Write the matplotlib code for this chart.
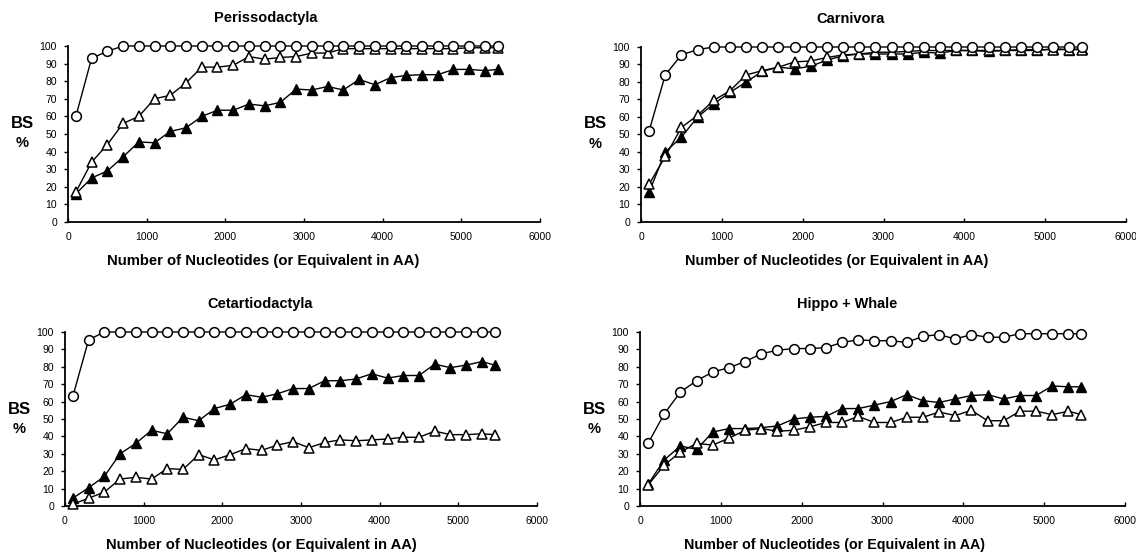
import matplotlib

matplotlib.use("Agg")
import matplotlib.pyplot as plt  # noqa: E402

plt.rcParams["font.family"] = ["Liberation Sans", "DejaVu Sans"]

W, H = 1136, 554

# sequence length (nucleotides or AA equivalent)
x_len = list(range(100, 5400, 200)) + [5460]

titles = ["Perissodactyla", "Carnivora", "Cetartiodactyla", "Hippo + Whale"]
xlabel = "Number of Nucleotides (or Equivalent in AA)"

peri_circle = [60, 93, 97] + [100] * 25
peri_open = [17, 34, 44, 56, 60, 70, 72, 79, 88, 88, 89, 94, 92.5, 93.5, 94, 96, 96,
             98.5, 98.5, 98.5, 98.5, 98.5, 98.5, 98.5, 98.5, 99, 99, 99]
peri_fill = [16, 25, 29, 37, 45.5, 45, 51.5, 53.5, 60, 63.5, 63.5, 67, 66, 68, 75.5, 75,
             77, 75, 81, 78, 82, 83.3, 83.7, 83.7, 86.7, 86.7, 86, 86.7]

carn_circle = [52, 84, 95.5, 98.5] + [100] * 24
carn_open = [21.5, 37.5, 54, 61, 69.5, 75, 84, 86.5, 88.5, 91.5, 92, 94, 95.5, 96,
             97, 97, 97.5, 98, 98, 98, 98, 98, 98, 98.5, 98.5, 98.5, 98.5, 98.5]
carn_fill = [17, 40, 48.5, 60, 67.5, 74, 80, 86, 88.5, 87.5, 89, 92.5, 95, 96,
             96, 96, 96, 97, 96.5, 98, 98, 97.5, 98, 98, 98, 99, 98.5, 99]

ceta_circle = [63, 95.5] + [100] * 26
ceta_open = [1, 4.5, 8, 15.5, 16.5, 15.5, 21.5, 21, 29.5, 26.5, 29.5, 33, 32, 35,
             37, 33.5, 36.5, 38, 37.5, 38, 38.5, 39.5, 39.5, 43, 41, 41, 41.5, 41]
ceta_fill = [4.5, 10.5, 17, 30, 36, 43.5, 41.5, 51, 49, 56, 58.5, 64, 62.5, 64.5,
             67.5, 67.5, 72, 72, 73, 76, 73.5, 75, 75, 81.5, 79.5, 81, 83, 81]

hipp_circle = [36, 53, 65.5, 72, 77, 79.5, 83, 87.5, 89.5, 90.5, 90.5, 91, 94, 95.5,
               95, 95, 94, 97.5, 98.5, 96, 98.5, 97, 97, 99, 99, 99, 99, 99]
hipp_open = [12, 23.5, 31, 36, 35, 39, 43.5, 44.5, 43, 43.5, 45.5, 48, 48, 51.5,
             48, 48, 51, 51, 54, 52, 55, 49, 49, 54.5, 54.5, 52.5, 54.5, 52.5]
hipp_fill = [12.5, 26.5, 34.5, 32.5, 42.5, 44.5, 44.5, 45, 46, 50, 51, 51.5, 56, 56,
             58, 60, 64, 60.5, 59.5, 61.5, 63.5, 64, 61.5, 63.5, 63.5, 69, 68.5, 68.5]

# (title, series..., axes box in px, title centre x / width, xlabel centre x / width)
panels = [
    (titles[0], peri_circle, peri_open, peri_fill, (68, 46, 540, 222), (266, 103), (263, 313)),
    (titles[1], carn_circle, carn_open, carn_fill, (641, 47, 1126, 222), (851, 68), (837, 303)),
    (titles[2], ceta_circle, ceta_open, ceta_fill, (65, 332, 537, 506), (260, 105), (261, 312)),
    (titles[3], hipp_circle, hipp_open, hipp_fill, (640, 332, 1125, 506), (847, 100), (835, 300)),
]

fig = plt.figure(figsize=(W / 100, H / 100), dpi=100)
renderer = fig.canvas.get_renderer()


def fit_text(x_px, y_px, s, width_px, **kw):
    t = fig.text(x_px / W, 1 - y_px / H, s, ha="center", va="center",
                 fontsize=10, fontweight="bold", **kw)
    w = t.get_window_extent(renderer).width
    t.set_fontsize(10 * width_px / w)
    return t


for title, circ, opn, fil, (x0, y0, x1, y1), (tcx, tw), (lcx, lw) in panels:
    ax = fig.add_axes([x0 / W, 1 - y1 / H, (x1 - x0) / W, (y1 - y0) / H])
    line_kw = dict(color="black", lw=1.0, clip_on=False, zorder=3)
    ax.plot(x_len, fil, marker="^", ms=7.5, mfc="black", mec="black", mew=1.0, **line_kw)
    ax.plot(x_len, opn, marker="^", ms=7.5, mfc="white", mec="black", mew=1.1, **line_kw)
    ax.plot(x_len, circ, marker="o", ms=7, mfc="white", mec="black", mew=1.1, **line_kw)

    ax.set_xlim(0, 6000)
    ax.set_ylim(0, 100)
    ax.set_xticks(range(0, 6001, 1000))
    ax.set_yticks(range(0, 101, 10))
    for s in ("top", "right"):
        ax.spines[s].set_visible(False)
    for s in ("left", "bottom"):
        ax.spines[s].set_linewidth(1.3)
    ax.tick_params(axis="x", direction="in", length=3, width=1, labelsize=7.5, pad=7)
    ax.tick_params(axis="y", direction="out", length=3, width=1, labelsize=7.5, pad=5)

    fit_text(tcx, y0 - 28, title, tw)
    fit_text(lcx, y1 + 39, xlabel, lw)
    lx = (x0 - 46) / W
    fig.text(lx, 1 - (y0 + 77) / H, "BS", ha="center", va="center",
             fontsize=12, fontweight="bold")
    fig.text(lx, 1 - (y0 + 97) / H, "%", ha="center", va="center",
             fontsize=10.5, fontweight="bold")

fig.savefig("out.png", dpi=100)
plt.close(fig)
